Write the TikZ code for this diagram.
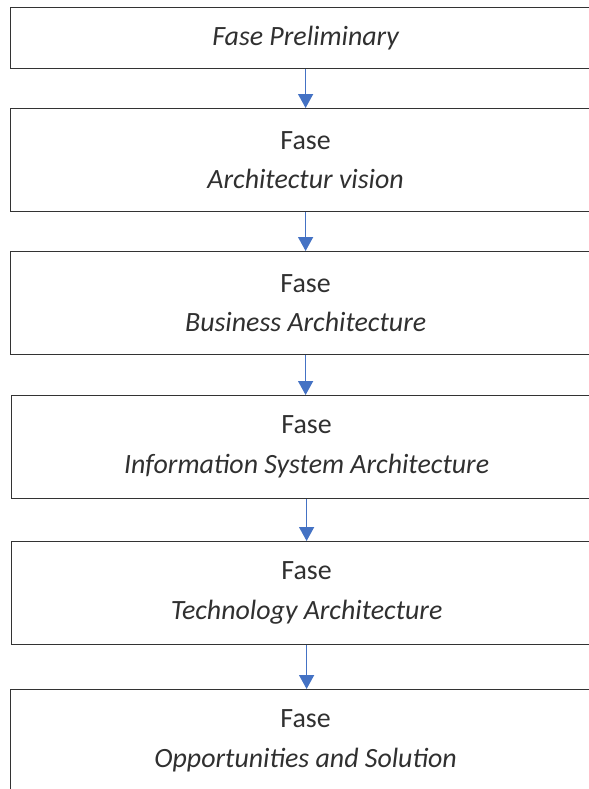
\documentclass[tikz,border=0pt]{standalone}
\usepackage{fontspec}
\setmainfont{Carlito}
\usetikzlibrary{arrows.meta}
\definecolor{arrowblue}{HTML}{4472C4}
\definecolor{txtgrey}{HTML}{303030}
\tikzset{
  phasebox/.style={draw=black!80, line width=1.2bp, rectangle, anchor=north west,
    minimum width=590bp, minimum height=103bp, inner sep=0pt, align=center,
    text=txtgrey, font=\fontsize{28}{40}\selectfont},
  flowarrow/.style={draw=arrowblue, color=arrowblue, line width=1.5bp,
    -{Triangle[length=14bp,width=15bp]}}
}
\begin{document}
\begin{tikzpicture}[x=1bp,y=-1bp]
\useasboundingbox (0,0) rectangle (589,789);
\clip (0,0) rectangle (589,789);
\node[phasebox, minimum height=61bp] (b1) at (10,7) {\itshape Fase Preliminary};
\node[phasebox] (b2) at (10,108) {Fase\\\itshape Architectur vision};
\node[phasebox] (b3) at (10,251) {Fase\\\itshape Business Architecture};
\node[phasebox] (b4) at (11,395) {Fase\\\itshape Information System Architecture};
\node[phasebox] (b5) at (11,541) {Fase\\\itshape Technology Architecture};
\node[phasebox] (b6) at (10,689) {Fase\\\itshape Opportunities and Solution};
\draw[flowarrow] (b1.south) -- (b2.north);
\draw[flowarrow] (b2.south) -- (b3.north);
\draw[flowarrow] (b3.south) -- (b3.south |- b4.north);
\draw[flowarrow] (b4.south) -- (b5.north);
\draw[flowarrow] (b5.south) -- (b5.south |- b6.north);
\end{tikzpicture}
\end{document}
